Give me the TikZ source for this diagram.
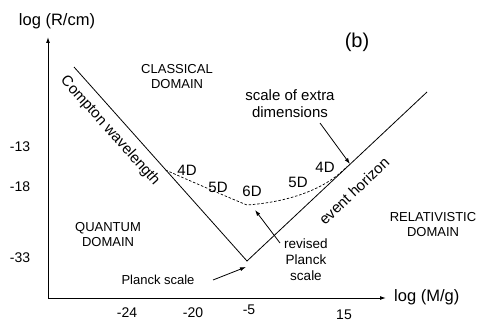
\documentclass[tikz,border=0pt]{standalone}
\usepackage{fontspec}
\setmainfont{Liberation Sans}
\usetikzlibrary{arrows.meta}
\begin{document}
\begin{tikzpicture}[x=1pt,y=-1pt,
  lbl/.style={font=\fontsize{13}{15}\selectfont, align=center, inner sep=0pt},
  txt/.style={font=\fontsize{15}{17}\selectfont, align=center, inner sep=0pt},
  tick/.style={font=\fontsize{14}{16}\selectfont, inner sep=0pt},
  curve/.style={line width=0.8pt},
  ptr/.style={line width=0.8pt, -{Latex[length=6pt,width=4pt]}},
  axis/.style={line width=1pt, -{Latex[length=6pt,width=4pt]}}]
\useasboundingbox (0,0) rectangle (485,329);
% axes
\coordinate (O) at (48,298);
\coordinate (Ytop) at (48,37);
\coordinate (Xend) at (386,298);
\draw[axis] (O) -- (Ytop);
\draw[axis] (O) -- (Xend);
\node[font=\fontsize{16.5}{18}\selectfont, inner sep=0pt] (ylab) at (57,21) {log (R/cm)};
\node[font=\fontsize{16.5}{18}\selectfont, inner sep=0pt, anchor=west] (xlab) at (394,297) {log (M/g)};
\node[font=\fontsize{20}{22}\selectfont, inner sep=0pt] (b) at (357,42) {(b)};
% ticks
\node[tick] (t1) at (127,313) {-24};
\node[tick] (t2) at (193,313) {-20};
\node[tick] (t3) at (249,310) {-5};
\node[tick] (t4) at (344,315) {15};
\node[tick] (y1) at (20,147) {-13};
\node[tick] (y2) at (20,187) {-18};
\node[tick] (y3) at (20,258) {-33};
% main lines
\coordinate (Cs) at (74,67);
\coordinate (P) at (247,261);
\coordinate (Ee) at (427,92);
\draw[curve] (Cs) -- (P) -- (Ee);
% dashed curve
\coordinate (D1) at (165.5,170);
\coordinate (D2) at (347,166.5);
\draw[line width=0.7pt, dash pattern=on 2.5pt off 1.8pt]
  (D1) .. controls (195,183) and (225,196) .. (247,205)
  .. controls (275,203) and (320,195) .. (D2);
% labels on curve
\node[txt] (d4a) at (187,170) {4D};
\node[txt] (d5a) at (218,187) {5D};
\node[txt] (d6) at (252,191) {6D};
\node[txt] (d5b) at (298,182) {5D};
\node[txt] (d4b) at (325,167) {4D};
% rotated labels
\node[txt, rotate=-48.3] (cw) at (110,131) {Compton wavelength};
\node[txt, rotate=43.5] (eh) at (354,191) {event horizon};
% domains
\node[lbl] (cl) at (177,77) {CLASSICAL\\DOMAIN};
\node[lbl] (qu) at (108,235) {QUANTUM\\DOMAIN};
\node[lbl] (re) at (433,225) {RELATIVISTIC\\DOMAIN};
% annotations
\node[txt] (se) at (290,104) {scale of extra\\dimensions};
\coordinate (seA) at (320,123);
\coordinate (seB) at (350,164);
\draw[ptr] (seA) -- (seB);
\node[lbl] (pl) at (158,280) {Planck scale};
\coordinate (plA) at (213,280);
\coordinate (plB) at (246,267);
\draw[ptr] (plA) -- (plB);
\node[txt, font=\fontsize{13.5}{16}\selectfont] (rp) at (306,260) {revised\\Planck\\scale};
\coordinate (rpA) at (280,243);
\coordinate (rpB) at (255,210);
\draw[ptr] (rpA) -- (rpB);
\end{tikzpicture}
\end{document}
